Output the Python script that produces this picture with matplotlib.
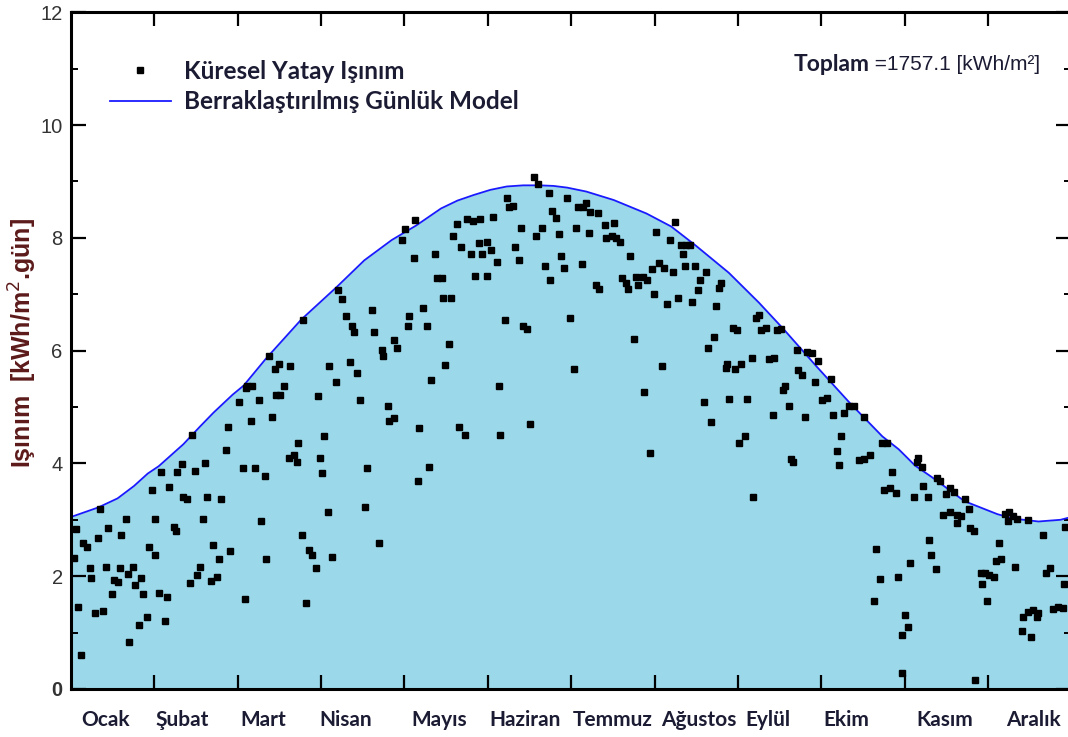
import matplotlib
matplotlib.use('Agg')
import matplotlib.pyplot as plt
import numpy as np
from matplotlib.lines import Line2D

# daily global horizontal irradiation (day of year, kWh/m2.day)
obs_day = [
    1.0, 2.0, 2.4, 3.7, 4.4, 5.9, 6.8, 7.3, 8.9, 9.8, 10.4, 11.7, 12.6, 13.4, 14.8, 15.6,
    17.1, 17.8, 18.4, 19.9, 20.7, 21.3, 22.7, 23.5, 24.8, 25.6, 26.3, 27.8, 28.5, 29.4, 30.6, 30.8,
    32.2, 33.0, 34.4, 35.1, 35.8, 37.5, 38.2, 38.8, 40.4, 41.0, 42.4, 43.4, 44.0, 45.4, 46.1, 46.9,
    48.3, 48.9, 49.7, 51.2, 51.9, 53.4, 54.1, 54.9, 56.4, 57.1, 57.9, 61.4, 62.8, 63.4, 63.8,
    64.1, 66.0, 65.5, 67.0, 68.6, 69.2, 70.6, 71.3, 72.1, 73.4, 74.6, 74.7, 75.8, 76.4, 77.6, 79.8,
    79.5, 81.3, 82.3, 82.9, 84.3, 84.8, 85.7, 87.0, 87.9, 89.4, 90.1, 90.7, 91.6, 92.2, 93.6, 94.3,
    95.2, 96.7, 97.3, 98.9, 100.3, 101.9, 102.5, 103.1, 104.5, 105.5, 107.4, 108.1, 109.7, 110.7,
    112.5, 113.4, 114.0, 115.5, 116.2, 117.9, 117.7, 119.1, 120.7, 121.9, 122.8, 123.4, 125.0,
    125.5, 126.9, 126.7,
    128.5, 130.0, 131.3, 130.7, 132.8, 133.7, 135.3, 135.8, 138.5, 136.5, 138.0, 139.5, 141.0,
    142.2, 141.5, 143.7, 144.3, 146.5, 149.4, 145.9, 147.3, 148.8, 151.6, 150.1, 153.1, 151.8,
    154.0, 155.5, 158.3, 156.1, 156.7, 158.9, 159.9, 161.2, 162.0, 163.3, 164.1, 164.9, 166.4,
    167.4, 168.9, 170.4, 169.8, 172.0, 172.8, 174.3, 174.9, 175.6, 177.1, 178.0, 178.6, 179.9,
    180.8, 182.1, 183.5, 184.3, 184.9, 186.8, 188.0, 186.5, 188.9,
    189.2, 192.2, 194.7, 198.1, 195.3, 197.3, 199.0, 200.2, 191.6, 192.5, 204.1, 201.0, 202.5,
    203.1, 206.2, 206.8, 208.6, 210.2, 205.3, 209.0, 211.2, 211.9, 212.6, 213.5, 214.7, 216.3,
    215.5, 217.6, 218.4, 219.8, 220.4, 221.3, 222.5, 224.4, 225.9, 223.4, 224.2, 227.8, 226.4,
    228.6, 229.5, 231.7, 230.8, 232.3, 233.6, 234.5, 235.2, 236.4, 237.3, 238.9, 239.5, 240.1,
    241.7, 243.1, 242.2, 244.4, 243.8, 246.0, 246.8, 248.3, 249.0, 249.9, 251.1, 251.7,
    253.4, 254.6, 256.5, 257.7, 259.1, 259.9, 260.4, 262.0, 256.1, 262.8, 263.5, 264.8, 265.2,
    266.8, 267.7, 268.6, 270.5, 272.6, 271.3, 274.1, 276.0, 277.3, 277.9, 279.3, 280.8, 280.1,
    282.2, 283.8, 285.6, 289.3, 287.5, 289.3, 291.7, 295.9, 297.7, 299.5, 296.5, 298.7, 301.1,
    293.8, 295.0, 293.1, 301.7, 304.4, 305.3, 303.2, 303.2, 306.0, 308.7, 310.5, 307.5, 311.0,
    312.5, 313.2, 313.7,
    309.2, 315.9, 316.9, 319.3, 320.8, 322.3, 318.3, 320.8, 323.2, 324.7, 323.2, 326.3, 327.5,
    328.1, 329.6, 315.7, 330.0, 331.9, 333.5, 335.1, 336.6, 332.2, 334.3, 337.5, 339.2, 338.7,
    340.8, 342.4, 343.8, 345.1, 342.0, 344.6, 346.9, 350.4, 347.3, 349.2, 351.1, 352.9, 352.3,
    349.0, 354.7, 355.9, 357.1, 358.4, 360.2, 361.8, 362.3, 362.7,
]
obs_val = [
    2.33, 2.83, 1.45, 0.60, 2.58, 2.52, 2.14, 1.96, 1.35, 2.67, 3.19, 1.38, 2.17, 2.85, 1.69, 1.94,
    1.90, 2.14, 2.73, 3.02, 2.04, 0.84, 2.17, 1.84, 1.13, 1.96, 1.69, 1.27, 2.52, 3.52, 3.01, 2.37,
    1.70, 3.84, 1.21, 1.63, 3.59, 2.88, 2.81, 3.84, 3.99, 3.40, 3.36, 1.88, 4.51, 3.87, 2.02, 2.17,
    3.01, 4.01, 3.40, 1.91, 2.55, 1.99, 2.30, 3.37, 4.23, 4.65, 2.45, 5.08, 3.91, 1.59, 5.34,
    5.37, 5.37, 4.76, 3.91, 5.12, 2.98, 3.77, 2.30, 5.91, 4.83, 5.67, 5.22, 5.76, 5.22, 5.37, 5.72,
    4.09, 4.15, 4.03, 4.37, 2.73, 6.54, 1.53, 2.46, 2.37, 2.14, 5.19, 4.09, 3.83, 4.48, 3.13, 5.72,
    2.34, 5.44, 7.08, 6.91, 6.62, 5.79, 6.43, 6.33, 5.61, 5.12, 3.23, 3.91, 6.72, 6.33,
    2.59, 6.01, 5.90, 5.01, 4.76, 4.80, 6.18, 6.04, 7.96, 8.15, 6.43, 6.61, 7.64,
    8.32, 4.63, 3.69,
    6.76, 6.43, 5.47, 3.94, 7.72, 7.29, 7.29, 6.94, 6.94, 5.75, 6.11, 8.04, 8.25,
    7.83, 4.65, 4.51, 8.33, 8.29, 8.33, 7.72, 7.32, 7.90, 7.93, 7.72, 7.78, 7.32,
    8.36, 7.57, 6.55, 5.37, 4.51, 8.71, 8.54, 8.57, 7.83, 7.60, 8.18, 6.43, 6.39,
    4.70, 9.07, 8.96, 8.03, 8.18, 7.50, 8.80, 7.25, 8.47, 8.35, 8.06, 7.68, 7.46,
    8.71, 6.57, 5.68, 8.18, 8.54, 8.54, 8.61, 7.54, 8.09,
    8.45, 8.44, 8.22, 8.26, 8.00, 8.03, 7.99, 7.93, 7.17, 7.10, 7.68, 7.29, 7.20,
    7.10, 7.31, 7.17, 7.31, 7.25, 6.21, 5.26, 4.18, 7.44, 7.01, 8.10, 7.55, 7.47,
    5.72, 6.82, 7.96, 7.39, 8.28, 6.94, 7.88, 7.88, 7.88, 7.71, 7.50, 7.50, 6.86,
    7.07, 7.26, 7.39, 5.08, 6.04, 4.73, 6.25, 6.79, 7.11, 7.20, 5.69, 5.77, 5.15,
    6.40, 6.36, 5.68, 5.77, 4.36, 4.48, 5.15, 5.86, 3.41, 6.58, 6.64, 6.37,
    6.40, 5.85, 5.87, 6.36, 6.39, 5.31, 5.38, 5.01, 4.86, 4.07, 4.03, 6.01, 5.66,
    5.57, 4.83, 5.97, 5.95, 5.81, 5.44, 5.13, 5.16, 5.50, 4.86, 4.22, 4.48, 3.97,
    4.89, 5.01, 5.02, 4.83, 4.06, 4.07, 4.15, 4.37, 4.37, 3.84, 3.52, 3.56, 3.48,
    2.49, 1.95, 1.56, 1.99, 1.31, 1.10, 0.95, 0.28, 2.23, 4.03, 3.94, 3.41, 3.60,
    3.41, 2.64, 2.37,
    4.09, 3.74, 3.68, 3.46, 3.56, 3.50, 3.08, 3.14, 3.08, 3.07, 2.94, 3.36, 3.20,
    2.85, 2.81, 2.12, 0.16, 2.05, 2.05, 2.02, 1.99, 1.87, 1.56, 2.27, 2.31, 2.59,
    3.10, 3.14, 3.07, 3.01, 2.98, 2.17, 1.03, 0.92, 1.28, 1.37, 1.40, 1.34, 1.27,
    3.00, 2.73, 2.05, 2.14, 1.41, 1.45, 1.43, 1.87, 2.87,
]

# clear-sky daily model, sampled along the blue curve
model_day = [0, 10, 17, 23, 28, 32, 41, 47, 52, 59, 63, 71, 84, 97, 107, 117, 126, 135, 141,
             147, 153, 159, 165, 171, 176, 181, 188, 198, 210, 219, 228, 240, 251, 260, 272,
             284, 296, 302, 308, 314, 326, 338, 344, 353, 361, 365]
model_val = [3.05, 3.22, 3.38, 3.60, 3.82, 3.95, 4.34, 4.65, 4.90, 5.22, 5.38, 5.85, 6.55,
             7.13, 7.60, 7.96, 8.22, 8.52, 8.66, 8.76, 8.85, 8.91, 8.93, 8.93, 8.92, 8.89,
             8.82, 8.67, 8.43, 8.20, 7.86, 7.38, 6.85, 6.38, 5.72, 5.08, 4.48, 4.25, 3.96,
             3.76, 3.33, 3.10, 3.02, 2.97, 3.00, 3.05]

months = ['Ocak', 'Şubat', 'Mart', 'Nisan', 'Mayıs', 'Haziran', 'Temmuz', 'Ağustos',
          'Eylül', 'Ekim', 'Kasım', 'Aralık']
month_label_day = [12.6, 40.5, 70.3, 100.3, 134.3, 165.6, 197.5, 229.2, 254.3, 283.0, 318.7, 351.1]
total = 1757.1

W, H = 1068, 737
fig = plt.figure(figsize=(W / 100, H / 100), dpi=100)
ax = fig.add_axes([71 / W, 48 / H, 1000.4 / W, 676.8 / H])

fill_col = '#9bd8e9'
ax.fill_between(model_day, model_val, 0, color=fill_col, lw=0)
ax.plot(model_day, model_val, color='#1a1aff', lw=1.3)
ax.plot(obs_day, obs_val, 's', color='black', ms=5, ls='none')

ax.set_xlim(0, 365)
ax.set_ylim(0, 12)

for s in ax.spines.values():
    s.set_linewidth(2.2)
    s.set_color('black')

# month boundaries as ticks, names in between
ax.set_xticks(np.arange(1, 12) * 365 / 12)
ax.set_xticklabels([])
ax.set_xticks(month_label_day, minor=True)
ax.set_xticklabels(months, minor=True, fontsize=15, fontweight='bold',
                   family='Lato', color='#1b1b33')
ax.tick_params(axis='x', which='major', direction='in', length=10, width=1.6,
               top=True, bottom=True)
ax.tick_params(axis='x', which='minor', length=0, pad=15)

ax.set_yticks(np.arange(0, 13, 2), [str(v) for v in range(0, 13, 2)])
ax.set_yticks(np.arange(1, 12, 2), minor=True)
ax.tick_params(axis='y', which='major', direction='in', length=11, width=1.6,
               left=True, right=True, labelsize=14.5, labelcolor='#333333', pad=6)
ax.tick_params(axis='y', which='minor', direction='in', length=5, width=1.4,
               left=True, right=True)
for t in ax.get_yticklabels():
    t.set_family('Liberation Sans')
ax.get_yticklabels()[0].set_fontweight('bold')

ax.set_ylabel('Işınım  [kWh/m$^2$.gün]', fontsize=18, fontweight='bold',
              family='Liberation Sans', color='#5c1a1a')
ax.yaxis.set_label_coords(-0.032, 0.512)

handles = [Line2D([], [], marker='s', color='black', ls='none', ms=5),
           Line2D([], [], color='#1a1aff', lw=1.3)]
leg = ax.legend(handles, ['Küresel Yatay Işınım', 'Berraklaştırılmış Günlük Model'],
                loc='upper left', bbox_to_anchor=(0.039, 0.93), frameon=False,
                borderpad=0, borderaxespad=0, handlelength=2.5, handletextpad=0.55,
                labelspacing=0.32, numpoints=1,
                prop={'family': 'Lato', 'weight': 'bold', 'size': 17.5})
for t in leg.get_texts():
    t.set_color('#1b1b33')

t1 = ax.text(0.722, 0.922, 'Toplam', transform=ax.transAxes, fontsize=16.5,
             fontweight='bold', family='Lato', color='#1b1b33', va='center')
ax.annotate(' =%.1f [kWh/m²]' % total, xy=(1, 0.5), xycoords=t1, va='center',
            fontsize=15, family='Liberation Sans', color='#1b1b33')

fig.savefig('out.png', dpi=100)
